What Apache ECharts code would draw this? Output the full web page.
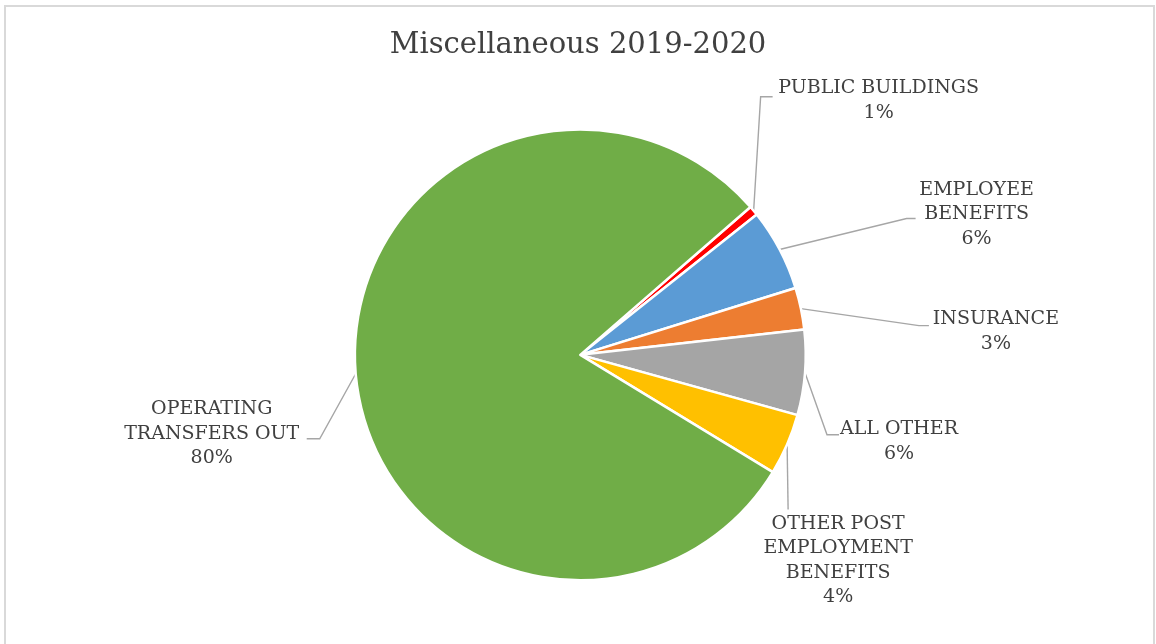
<!DOCTYPE html>
<html>
<head>
<meta charset="utf-8">
<script src="https://cdn.jsdelivr.net/npm/echarts@6/dist/echarts.min.js"></script>
<style>
html,body{margin:0;padding:0;background:#fff;}
#frame{position:absolute;left:4px;top:5px;width:1151px;height:700px;border:2px solid #d9d9d9;box-sizing:border-box;}
#chart{position:absolute;left:0;top:0;width:1156px;height:644px;}
</style>
</head>
<body>
<div id="frame"></div>
<div id="chart"></div>
<script>
const titleText = 'Miscellaneous 2019-2020';
const categories = ['PUBLIC BUILDINGS', 'EMPLOYEE\nBENEFITS', 'INSURANCE', 'ALL OTHER', 'OTHER POST\nEMPLOYMENT\nBENEFITS', 'OPERATING\nTRANSFERS OUT'];
const values = [0.7, 5.9, 3.0, 6.1, 4.4, 79.9];
const colors = ['#FF0000', '#5B9BD5', '#ED7D31', '#A5A5A5', '#FFC000', '#70AD47'];

// label layout offsets relative to the slice-edge anchor: [elbow, lineEnd, labelCenter]
const labelOffsets = [
  [[7, -114], [19, -114], [125, -110]],
  [[127, -31], [136, -31], [197, -35]],
  [[118, 17], [128, 17], [195, 23]],
  [[22, 62], [34, 62], [94, 69]],
  [[1, 65], [1, 65], [51, 116]],
  [[-36, 65], [-49, 65], [-144, 60]]
];

const chart = echarts.init(document.getElementById('chart'));
const font = 'DejaVu Serif';
chart.setOption({
  animation: false,
  title: {
    text: titleText, left: 'center', top: 26,
    textStyle: { fontFamily: font, fontSize: 29, fontWeight: 'normal', color: '#404040' }
  },
  series: [{
    type: 'pie',
    center: ['50.2%', '55.1%'],
    radius: '70%',
    startAngle: 41,
    clockwise: true,
    avoidLabelOverlap: false,
    data: categories.map((c, i) => ({ name: c, value: values[i], itemStyle: { color: colors[i] } })),
    itemStyle: { borderColor: '#ffffff', borderWidth: 2.5 },
    label: {
      show: true, position: 'outside',
      fontFamily: font, fontSize: 19, color: '#404040', lineHeight: 24.5,
      formatter: p => p.name + '\n' + Math.round(p.percent) + '%'
    },
    labelLine: { show: true, length: 10, length2: 10, lineStyle: { color: '#a6a6a6', width: 1.4 } },
    emphasis: { disabled: true },
    labelLayout: function (params) {
      const o = labelOffsets[params.dataIndex];
      const p0 = params.labelLinePoints[0];
      return {
        x: p0[0] + o[2][0], y: p0[1] + o[2][1],
        align: 'center', verticalAlign: 'middle',
        hideOverlap: false, moveOverlap: false,
        labelLinePoints: [[p0[0], p0[1]], [p0[0] + o[0][0], p0[1] + o[0][1]], [p0[0] + o[1][0], p0[1] + o[1][1]]]
      };
    }
  }]
});
</script>
</body>
</html>
